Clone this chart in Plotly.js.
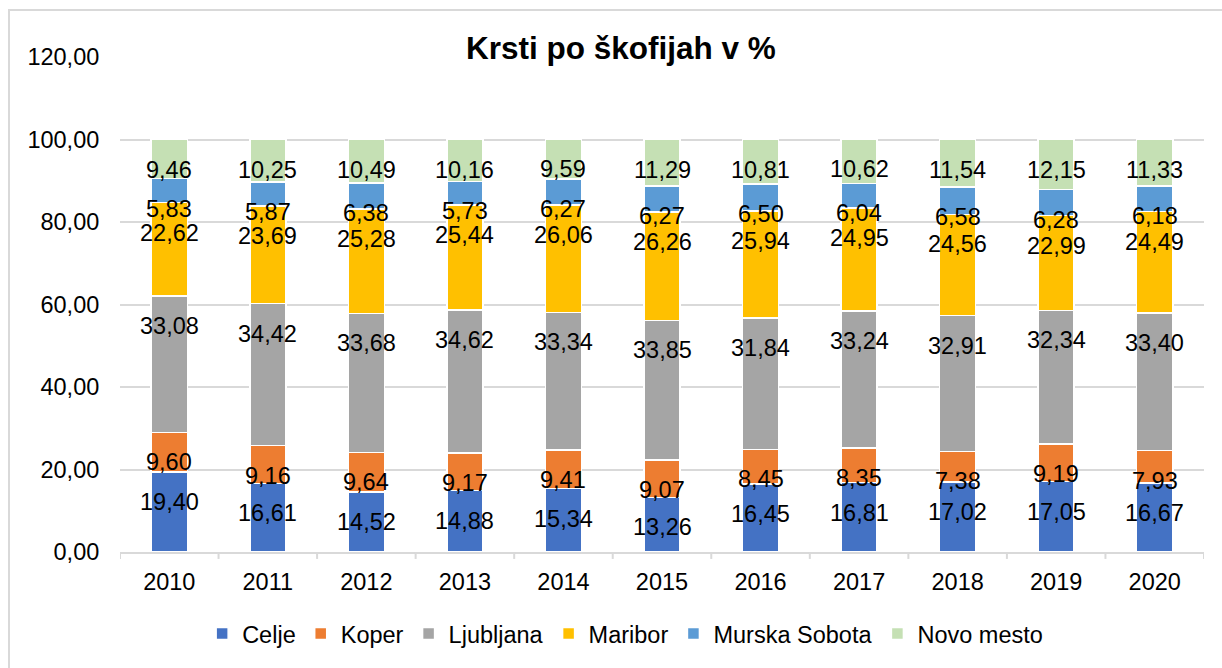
<!DOCTYPE html>
<html>
<head>
<meta charset="utf-8">
<script src="https://cdn.plot.ly/plotly-3.0.1.min.js"></script>
<style>
  html, body { margin: 0; padding: 0; overflow: hidden; background: #fff; }
  #wrap { position: relative; width: 1222px; height: 668px; overflow: hidden; }
  #chart { width: 1222px; height: 668px; }
  #frame { position: absolute; left: 8px; top: 9px; width: 1400px; height: 900px;
           border: 2px solid #d9d9d9; pointer-events: none; box-sizing: border-box; }
</style>
</head>
<body>
<div id="wrap">
  <div id="chart"></div>
  <div id="frame"></div>
</div>
<script>
const years = ['2010','2011','2012','2013','2014','2015','2016','2017','2018','2019','2020'];
const seriesNames = ['Celje','Koper','Ljubljana','Maribor','Murska Sobota','Novo mesto'];
const celje        = [19.40,16.61,14.52,14.88,15.34,13.26,16.45,16.81,17.02,17.05,16.67];
const koper        = [9.60, 9.16, 9.64, 9.17, 9.41, 9.07, 8.45, 8.35, 7.38, 9.19, 7.93];
const ljubljana    = [33.08,34.42,33.68,34.62,33.34,33.85,31.84,33.24,32.91,32.34,33.40];
const maribor      = [22.62,23.69,25.28,25.44,26.06,26.26,25.94,24.95,24.56,22.99,24.49];
const murskaSobota = [5.83, 5.87, 6.38, 5.73, 6.27, 6.27, 6.50, 6.04, 6.58, 6.28, 6.18];
const novoMesto    = [9.46,10.25,10.49,10.16, 9.59,11.29,10.81,10.62,11.54,12.15,11.33];
const yTicks = [0,20,40,60,80,100,120];
const titleText = 'Krsti po škofijah v %';

const seriesValues = [celje, koper, ljubljana, maribor, murskaSobota, novoMesto];
const colors = ['#4472C4','#ED7D31','#A5A5A5','#FFC000','#5B9BD5','#C5E0B4'];
const FONT = 'Liberation Sans, Arial, sans-serif';
const fmt = v => v.toFixed(2).replace('.', ',');
const xIdx = years.map((_, i) => i);

const traces = seriesNames.map((name, i) => ({
  type: 'bar',
  name: name,
  x: xIdx,
  y: seriesValues[i],
  marker: { color: colors[i], line: { color: '#ffffff', width: 1.5 } },
  hoverinfo: 'skip'
}));

// data labels: placed relative to top of each stacked segment
const annotations = [];
const cum = years.map(() => 0);
seriesValues.forEach((vals) => {
  vals.forEach((v, j) => {
    cum[j] += v;
    annotations.push({
      x: xIdx[j], y: cum[j], xref: 'x', yref: 'y',
      text: fmt(v), showarrow: false,
      yanchor: 'middle', xanchor: 'center', yshift: -30,
      font: { family: FONT, size: 23.5, color: '#000000' }
    });
  });
});

annotations.push({
  text: '<b>' + titleText + '</b>',
  xref: 'paper', yref: 'paper', x: 0.4626, y: 1.018,
  xanchor: 'center', yanchor: 'middle', showarrow: false,
  bgcolor: '#ffffff', borderpad: 0,
  font: { family: FONT, size: 31.5, color: '#000000' }
});

// category boundary ticks below the axis
const shapes = [];
for (let k = 0; k <= years.length; k++) {
  shapes.push({
    type: 'line', xref: 'x', yref: 'paper',
    x0: k - 0.5, x1: k - 0.5, y0: 0, y1: -0.014,
    line: { color: '#d9d9d9', width: 2 }
  });
}

const layout = {
  width: 1222, height: 668,
  margin: { l: 120, r: 18, t: 57, b: 107 },
  paper_bgcolor: '#ffffff', plot_bgcolor: '#ffffff',
  barmode: 'stack', bargap: 0.634,
  showlegend: true,
  font: { family: FONT, size: 23.5, color: '#000000' },
  xaxis: {
    type: 'linear',
    range: [-0.5, years.length - 0.5],
    tickvals: xIdx, ticktext: years,
    showgrid: false, zeroline: false,
    showline: true, linecolor: '#d9d9d9', linewidth: 2,
    ticks: 'outside', ticklen: 8, tickcolor: 'rgba(0,0,0,0)',
    tickangle: 0,
    tickfont: { family: FONT, size: 23.5, color: '#000000' },
    fixedrange: true
  },
  yaxis: {
    range: [0, 120],
    tickvals: yTicks,
    ticktext: yTicks.map(fmt),
    showgrid: true, gridcolor: '#d9d9d9', gridwidth: 2,
    zeroline: false, showline: false,
    ticks: 'outside', ticklen: 15, tickcolor: 'rgba(0,0,0,0)',
    tickfont: { family: FONT, size: 23.5, color: '#000000' },
    fixedrange: true
  },
  legend: {
    orientation: 'h',
    x: 0.466, xanchor: 'center',
    y: -0.165, yanchor: 'middle',
    font: { family: FONT, size: 23.5, color: '#000000' },
    traceorder: 'normal',
    itemclick: false, itemdoubleclick: false
  },
  shapes: shapes,
  annotations: annotations
};

Plotly.newPlot('chart', traces, layout, { displayModeBar: false, staticPlot: true });
</script>
</body>
</html>
